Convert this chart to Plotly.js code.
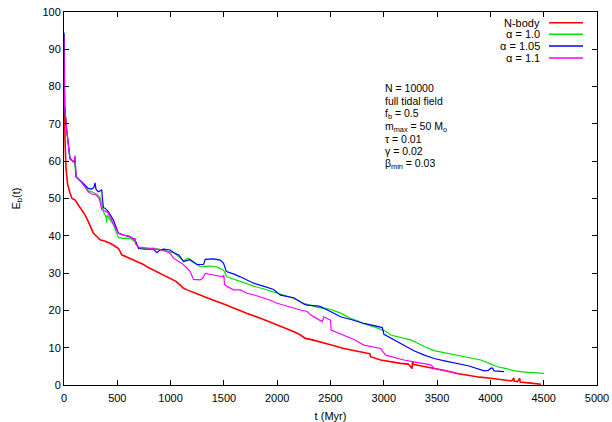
<!DOCTYPE html>
<html>
<head>
<meta charset="utf-8">
<script src="https://cdn.plot.ly/plotly-3.0.1.min.js"></script>
<style>html,body{margin:0;padding:0;background:#fff;}#plot{width:612px;height:422px;}</style>
</head>
<body>
<div id="plot"></div>
<script>
// ---- data ----
const seriesNames = ["N-body", "\u03b1 = 1.0", "\u03b1 = 1.05", "\u03b1 = 1.1"];
const seriesColors = ["#ff0000", "#00e000", "#0000ff", "#ff00ff"];

const tNbody = [0, 3, 9, 19, 33, 56, 75, 103, 122, 150, 175, 197, 228, 250, 276, 300, 338, 380, 432, 480, 511, 542, 600, 651, 700, 740, 777, 840, 902, 950, 996, 1050, 1090, 1120, 1153, 1200, 1278, 1340, 1403, 1460, 1529, 1560, 1591, 1650, 1717, 1780, 1842, 1920, 1999, 2060, 2124, 2180, 2218, 2265, 2330, 2406, 2500, 2625, 2700, 2845, 2870, 2876, 2970, 3060, 3158, 3230, 3265, 3270, 3275, 3283, 3380, 3471, 3580, 3690, 3800, 3900, 4004, 4100, 4200, 4220, 4225, 4254, 4275, 4280, 4300, 4380, 4474];
const eNbody = [93, 75, 66, 58, 54, 51.5, 50, 49.6, 48.8, 47.4, 46.5, 45.6, 43.8, 42.5, 40.7, 40, 38.9, 38.6, 38, 37.2, 36.6, 34.9, 34.2, 33.5, 32.8, 32.4, 31.7, 30.8, 29.9, 29.2, 28.6, 27.8, 26.8, 26.0, 25.5, 24.9, 24.1, 23.4, 22.8, 22.2, 21.4, 21.0, 20.6, 20.0, 19.2, 18.6, 17.9, 17.0, 16.1, 15.4, 14.7, 14.0, 13.4, 12.5, 12.1, 11.6, 10.8, 9.8, 9.3, 8.5, 8.4, 7.6, 6.7, 6.2, 5.8, 5.6, 4.4, 6.4, 5.5, 5.5, 5.0, 4.5, 3.8, 3.1, 2.5, 2.1, 1.8, 1.5, 1.1, 1.9, 1.0, 0.9, 1.8, 0.8, 0.7, 0.5, 0.2];

const tAlpha100 = [0, 5, 25, 40, 56, 88, 100, 113, 166, 228, 260, 300, 338, 370, 395, 400, 405, 420, 463, 511, 560, 620, 667, 700, 760, 840, 900, 960, 1027, 1080, 1121, 1150, 1168, 1200, 1278, 1330, 1372, 1440, 1497, 1529, 1590, 1654, 1720, 1779, 1870, 1967, 2060, 2155, 2249, 2375, 2500, 2600, 2688, 2770, 2845, 2920, 2986, 3030, 3064, 3160, 3252, 3320, 3377, 3471, 3580, 3690, 3800, 3910, 3990, 4067, 4150, 4223, 4350, 4505];
const eAlpha100 = [94, 75, 68.4, 64.6, 60.6, 59.8, 59.5, 56, 54.2, 52.1, 51.8, 51.3, 50.3, 46.5, 45, 43.5, 45.6, 44.8, 43.0, 39.5, 39.3, 39.4, 38.3, 36.8, 36.6, 36.7, 36.3, 36.0, 35.5, 34.3, 33.3, 33.8, 34.0, 33.3, 31.7, 31.8, 31.9, 31.6, 30.8, 29.0, 28.4, 27.7, 27.2, 26.5, 25.8, 25.0, 24.1, 23.2, 21.9, 20.8, 20.3, 19.2, 17.9, 17.0, 16.1, 15.5, 14.7, 14.2, 13.4, 12.8, 12.1, 11.2, 10.3, 9.2, 8.6, 8.0, 7.4, 6.7, 5.8, 4.9, 4.4, 3.8, 3.4, 3.1];

const tAlpha105 = [0, 5, 25, 40, 56, 88, 98, 103, 108, 113, 166, 228, 260, 280, 291, 300, 322, 354, 360, 370, 385, 416, 463, 511, 560, 620, 667, 699, 760, 840, 871, 900, 933, 996, 1027, 1080, 1121, 1180, 1247, 1309, 1325, 1400, 1466, 1497, 1523, 1590, 1654, 1720, 1779, 1870, 1967, 2030, 2155, 2249, 2281, 2375, 2406, 2500, 2594, 2700, 2813, 2900, 2986, 3001, 3040, 3095, 3180, 3283, 3380, 3471, 3580, 3690, 3800, 3941, 3980, 4004, 4020, 4035, 4129];
const eAlpha105 = [94.5, 75, 68.4, 64.8, 60.8, 59.9, 60, 61.2, 57, 55.8, 54.5, 52.7, 52.5, 53, 54.2, 52.5, 51.8, 52.3, 50, 47.5, 47.4, 46.5, 44.2, 40.7, 40.2, 39.8, 38.9, 36.6, 36.4, 36.4, 35.5, 36.2, 36.4, 36.2, 35.5, 34.8, 33.1, 33.6, 32.3, 32.3, 33.7, 33.8, 33.5, 32.6, 30.4, 29.8, 29.0, 28.2, 27.3, 26.5, 25.6, 24.1, 23.4, 21.7, 21.4, 21.2, 21.0, 19.7, 18.3, 17.5, 16.5, 16.0, 15.4, 13.6, 13.0, 12.1, 10.8, 9.2, 8.0, 7.1, 6.4, 5.8, 5.1, 3.8, 3.9, 4.5, 4.5, 3.8, 3.6];

const tAlpha110 = [0, 5, 25, 40, 56, 88, 98, 103, 106, 113, 166, 228, 260, 300, 330, 355, 370, 410, 463, 511, 560, 620, 660, 667, 672, 700, 760, 840, 900, 960, 996, 1027, 1106, 1150, 1184, 1215, 1278, 1300, 1325, 1403, 1491, 1500, 1505, 1523, 1591, 1654, 1717, 1800, 1873, 1930, 1999, 2080, 2155, 2218, 2281, 2312, 2360, 2422, 2437, 2500, 2506, 2625, 2720, 2813, 2900, 2970, 3017, 3100, 3189, 3283, 3360, 3440, 3471, 3560, 3659, 3700];
const eAlpha110 = [93.5, 75, 68.5, 64.6, 60.6, 60.0, 60.2, 61.5, 57, 55.8, 54.3, 51.8, 51.2, 51, 50, 47, 46.8, 46.3, 43.2, 40.7, 40.2, 39.8, 38.8, 39.4, 37.8, 37, 36.8, 36.5, 36.3, 35.8, 35.3, 34.0, 32.6, 31.5, 30.4, 28.3, 28.2, 28.6, 29.9, 29.5, 29.0, 29.5, 27.0, 26.5, 25.5, 25.5, 24.6, 24.0, 23.4, 22.8, 21.9, 21.2, 20.6, 20.1, 19.7, 18.8, 18.0, 17.0, 18.3, 17.4, 14.7, 13.4, 12.2, 10.7, 10.3, 9.8, 8.0, 7.3, 6.7, 6.2, 5.9, 5.4, 4.5, 4.0, 3.3, 3.0];

const paramLines = ["N = 10000", "full tidal field", "f<sub>b</sub> = 0.5", "m<sub>max</sub> = 50 M<sub>o</sub>", "\u03c4 = 0.01", "\u03b3 = 0.02", "\u03b2<sub>min</sub> = 0.03"];
const xTitle = "t (Myr)";
const yTitle = "E<sub>b</sub>(t)";

// ---- figure ----
const FONT = "Liberation Sans, Arial, Helvetica, sans-serif";
const tSeries = [tNbody, tAlpha100, tAlpha105, tAlpha110];
const eSeries = [eNbody, eAlpha100, eAlpha105, eAlpha110];
const widths = [1.6, 1.2, 1.2, 1.2];

const traces = [];
for (let i = 0; i < 4; i++) {
  traces.push({
    type: "scatter", mode: "lines", name: seriesNames[i],
    x: tSeries[i], y: eSeries[i],
    line: {color: seriesColors[i], width: widths[i], shape: "linear"},
    showlegend: false, hoverinfo: "skip"
  });
}

const annotations = [];
const shapes = [];
// plot area in px: left 64, right 597, top 12, bottom 385
const pyToPaper = py => (385 - py) / 373;
const pxToPaper = px => (px - 64) / 533;

// gnuplot-style key: text right-aligned, sample line to the right
const keyRowsPx = [22.7, 34.3, 46, 58];
for (let i = 0; i < 4; i++) {
  const yy = pyToPaper(keyRowsPx[i]);
  annotations.push({
    xref: "paper", yref: "paper", x: pxToPaper(542), y: yy,
    xanchor: "right", yanchor: "middle", showarrow: false,
    text: seriesNames[i], font: {family: FONT, size: 11, color: "#000"}
  });
  shapes.push({
    type: "line", xref: "paper", yref: "paper",
    x0: pxToPaper(549), x1: pxToPaper(583), y0: yy, y1: yy,
    line: {color: seriesColors[i], width: 1.5}
  });
}
// parameter text block, one line per annotation
const paramRowsPx = [88, 100.5, 114, 127, 138.5, 150.5, 164];
for (let i = 0; i < paramLines.length; i++) {
  annotations.push({
    xref: "paper", yref: "paper", x: pxToPaper(383), y: pyToPaper(paramRowsPx[i]),
    xanchor: "left", yanchor: "middle", align: "left", showarrow: false,
    text: paramLines[i], font: {family: FONT, size: 10.5, color: "#000"}
  });
}

const axisCommon = {
  showline: true, linecolor: "#000", linewidth: 1, mirror: "ticks",
  ticks: "inside", ticklen: 5, tickwidth: 1, tickcolor: "#000",
  showgrid: false, zeroline: false,
  tickfont: {family: FONT, size: 11, color: "#000"}
};

const layout = {
  width: 612, height: 422,
  margin: {l: 64, r: 15, t: 12, b: 37, pad: 0},
  paper_bgcolor: "#fff", plot_bgcolor: "#fff",
  font: {family: FONT, size: 11, color: "#000"},
  showlegend: false,
  xaxis: Object.assign({}, axisCommon, {
    range: [0, 5000], tick0: 0, dtick: 500, ticklabelstandoff: 3,
    title: {text: xTitle, font: {family: FONT, size: 11, color: "#000"}, standoff: 10}
  }),
  yaxis: Object.assign({}, axisCommon, {
    range: [0, 100], tick0: 0, dtick: 10,
    title: {text: yTitle, font: {family: FONT, size: 11, color: "#000"}, standoff: 19}
  }),
  annotations: annotations,
  shapes: shapes
};

Plotly.newPlot("plot", traces, layout, {staticPlot: true, displayModeBar: false});
</script>
</body>
</html>
